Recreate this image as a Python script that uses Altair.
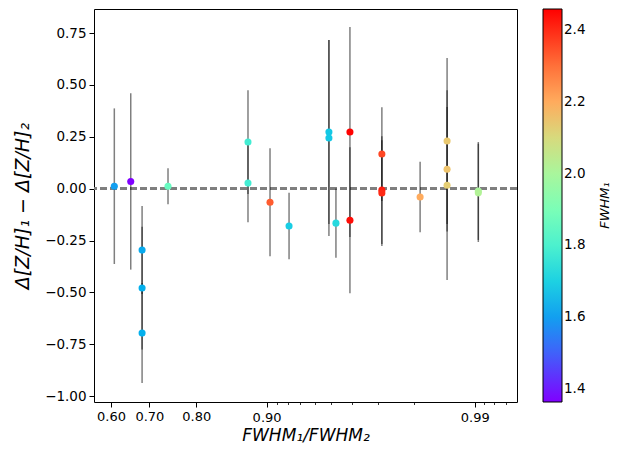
import altair as alt
import pandas as pd
import numpy as np

# FWHM_1 / FWHM_2 ratio
ratio = [0.609, 0.653, 0.682, 0.682, 0.682, 0.743, 0.879, 0.879, 0.9035, 0.921,
         0.9486, 0.9486, 0.9524, 0.9592, 0.9592, 0.9714, 0.9714, 0.9714, 0.9814,
         0.9863, 0.9863, 0.9863, 0.9904, 0.9904]
# Delta[Z/H]_1 - Delta[Z/H]_2
dzh = [0.012, 0.035, -0.296, -0.479, -0.696, 0.012, 0.225, 0.027, -0.065, -0.18,
       0.273, 0.244, -0.166, 0.273, -0.152, 0.167, -0.007, -0.021, -0.04,
       0.23, 0.094, 0.017, -0.011, -0.02]
# symmetric error
err = [0.375, 0.425, 0.212, 0.296, 0.241, 0.087, 0.25, 0.189, 0.26, 0.16,
       0.443, 0.472, 0.167, 0.506, 0.352, 0.226, 0.26, 0.255, 0.17,
       0.40, 0.30, 0.457, 0.236, 0.237]
# colour value FWHM_1
fwhm1 = [1.60, 1.365, 1.62, 1.63, 1.63, 1.86, 1.78, 1.78, 2.33, 1.69,
         1.68, 1.68, 1.72, 2.455, 2.44, 2.36, 2.42, 2.40, 2.20,
         2.14, 2.15, 2.13, 2.00, 2.02]

major_low = [0.60, 0.70, 0.80]
major_high = [0.90, 0.99]
minor = [0.91, 0.92, 0.93, 0.94, 0.95, 0.96, 0.97, 0.98, 0.991, 0.992, 0.993]
y_ticks = [-1.0, -0.75, -0.5, -0.25, 0.0, 0.25, 0.5, 0.75]
cbar_ticks = [1.4, 1.6, 1.8, 2.0, 2.2, 2.4]
cbar_title = ["FWHM₁"]

# matplotlib "rainbow" colormap stops
rainbow = ["#8000ff", "#6032fe", "#4062fa", "#208ef4", "#00b4ec", "#20d4e1",
           "#40ecd4", "#60fac5", "#80ffb4", "#9ffaa2", "#bfec8e", "#dfd478",
           "#ffb462", "#ff8e4a", "#ff6232", "#ff3219", "#ff0000"]
cmin, cmax = 1.364, 2.458
cdomain = list(np.linspace(cmin, cmax, len(rainbow)))

def logit(v):
    return [float(np.log(p / (1 - p))) for p in v]

df = pd.DataFrame({"ratio": ratio, "dzh": dzh, "err": err, "fwhm1": fwhm1})

base = alt.Chart(df).transform_calculate(
    lx="log(datum.ratio/(1-datum.ratio))",
    lo="datum.dzh - datum.err",
    hi="datum.dzh + datum.err",
)

xscale = alt.Scale(domain=[0.209, 5.082], nice=False, zero=False)
yscale = alt.Scale(domain=[-1.028, 0.866], nice=False, zero=False)

lab = "format(1/(1+exp(-datum.value)), '.2f')"
font = "DejaVu Sans"

yaxis = alt.Axis(values=y_ticks, format=".2f", title="Δ[Z/H]₁ − Δ[Z/H]₂",
                 titleFontSize=19, titleFontWeight="normal", titleFontStyle="italic",
                 titlePadding=12, labelFontSize=13.5, tickSize=5, tickWidth=1,
                 tickColor="black", labelColor="black", titleColor="black",
                 labelPadding=3, domain=False, grid=False)

ax_low = alt.Axis(values=logit(major_low), labelExpr=lab, orient="bottom",
                  title="FWHM₁/FWHM₂", titleFontSize=17, titleFontWeight="normal",
                  titleFontStyle="italic", titleY=38, titleBaseline="alphabetic",
                  titleColor="black",
                  labelFontSize=13, labelPadding=3, tickSize=5, tickWidth=1,
                  tickColor="black", labelColor="black", labelOverlap=False,
                  labelFlush=False, domain=False, grid=False)
ax_high = alt.Axis(values=logit(major_high), labelExpr=lab, orient="bottom", title=None,
                   labelFontSize=13, labelPadding=4.5, tickSize=5, tickWidth=1,
                   tickColor="black", labelColor="black", labelOverlap=False,
                   labelFlush=False, domain=False, grid=False)
ax_minor = alt.Axis(values=logit(minor), labels=False, orient="bottom", title=None,
                    tickSize=2.5, tickWidth=0.8, tickColor="black",
                    domain=False, grid=False)

zero_line = base.mark_rule(color="#7f7f7f", strokeWidth=2, strokeDash=[7, 3]).encode(
    y=alt.datum(0, scale=yscale, axis=yaxis)
)

bars = base.mark_rule(color="black", opacity=0.5, strokeWidth=1.5).encode(
    x=alt.X("lx:Q", scale=xscale, axis=ax_high),
    y=alt.Y("lo:Q", scale=yscale, axis=yaxis),
    y2="hi:Q",
)

points = base.mark_circle(size=50, opacity=1).encode(
    x=alt.X("lx:Q", scale=xscale, axis=ax_low),
    y=alt.Y("dzh:Q", scale=yscale, axis=yaxis),
    color=alt.Color("fwhm1:Q",
                    scale=alt.Scale(domain=cdomain, range=rainbow, interpolate="rgb"),
                    legend=alt.Legend(title=None, values=cbar_ticks, format=".1f")),
)

minor_layer = base.mark_point(opacity=0).encode(
    x=alt.X("lx:Q", scale=xscale, axis=ax_minor),
    y=alt.Y("dzh:Q", scale=yscale, axis=yaxis),
)

ctitle = alt.Chart(pd.DataFrame({"t": cbar_title})).mark_text(
    angle=270, fontSize=13, fontStyle="italic", color="black", font=font,
    align="center", baseline="middle"
).encode(x=alt.value(511), y=alt.value(196.5), text="t:N")

chart = alt.layer(minor_layer, zero_line, bars, points, ctitle).resolve_axis(
    x="independent"
).properties(
    width=423, height=393,
    autosize=alt.AutoSizeParams(type="none"),
    padding={"left": 86, "top": 1, "right": 96, "bottom": 41},
).configure(font=font).configure_view(
    stroke="black", strokeWidth=1
).configure_legend(
    orient="right", offset=26, padding=0, gradientLength=393, gradientThickness=19,
    gradientStrokeColor="black", gradientStrokeWidth=1,
    labelFontSize=13.5, labelOffset=6, labelColor="black", labelOverlap=False,
)

chart.save("out.html", embed_options={"renderer": "svg", "actions": False})
